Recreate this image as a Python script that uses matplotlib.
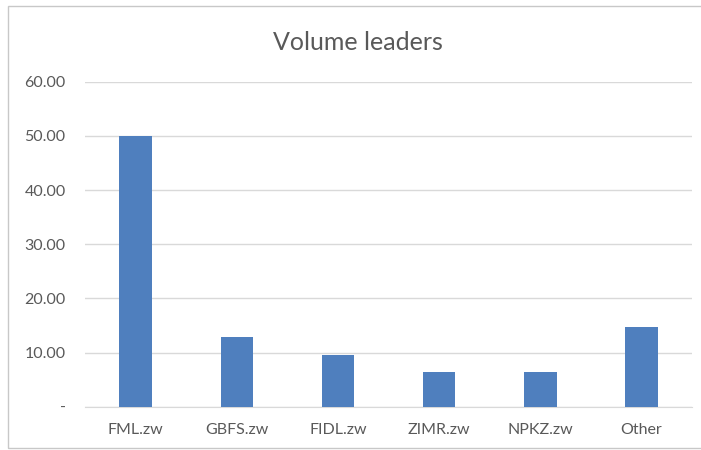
import matplotlib
matplotlib.use('Agg')
from matplotlib import pyplot as plt
from matplotlib.patches import Rectangle

tickers = ['FML.zw', 'GBFS.zw', 'FIDL.zw', 'ZIMR.zw', 'NPKZ.zw', 'Other']
volumes = [50.0, 12.9, 9.5, 6.4, 6.4, 14.8]
y_ticks = [0, 10, 20, 30, 40, 50, 60]


def fmt_tick(v):
    return '-' if v == 0 else '{0:.2f}'.format(v)


plt.rcParams['font.family'] = ['Lato', 'DejaVu Sans']

fig = plt.figure(figsize=(7.01, 4.5), dpi=100)
ax = fig.add_axes([0.1213, 0.0962, 0.866, 0.7222])

ax.bar(range(len(tickers)), volumes, width=0.32, color='#4f7fbe', zorder=3)

ax.set_xlim(-0.5, len(tickers) - 0.5)
ax.set_ylim(0, 60)
ax.set_yticks(y_ticks)
ax.set_yticklabels([fmt_tick(v) for v in y_ticks])
ax.set_xticks(range(len(tickers)))
ax.set_xticklabels(tickers)
ax.tick_params(axis='both', length=0, labelsize=11.5, colors='#595959')
ax.tick_params(axis='x', pad=12)
ax.tick_params(axis='y', pad=14)

ax.grid(axis='y', color='#d9d9d9', linewidth=1, zorder=0)
for side in ['top', 'right', 'left']:
    ax.spines[side].set_visible(False)
ax.spines['bottom'].set_color('#d9d9d9')

fig.text(0.51, 0.905, 'Volume leaders', ha='center', va='center',
         fontsize=18, color='#595959')

# light frame round the chart area
fig.patches.append(Rectangle((0.011, 0.005), 1.0, 0.982, transform=fig.transFigure,
                             fill=False, edgecolor='#c8c8c8', linewidth=1))

fig.savefig('out.png', dpi=100)
